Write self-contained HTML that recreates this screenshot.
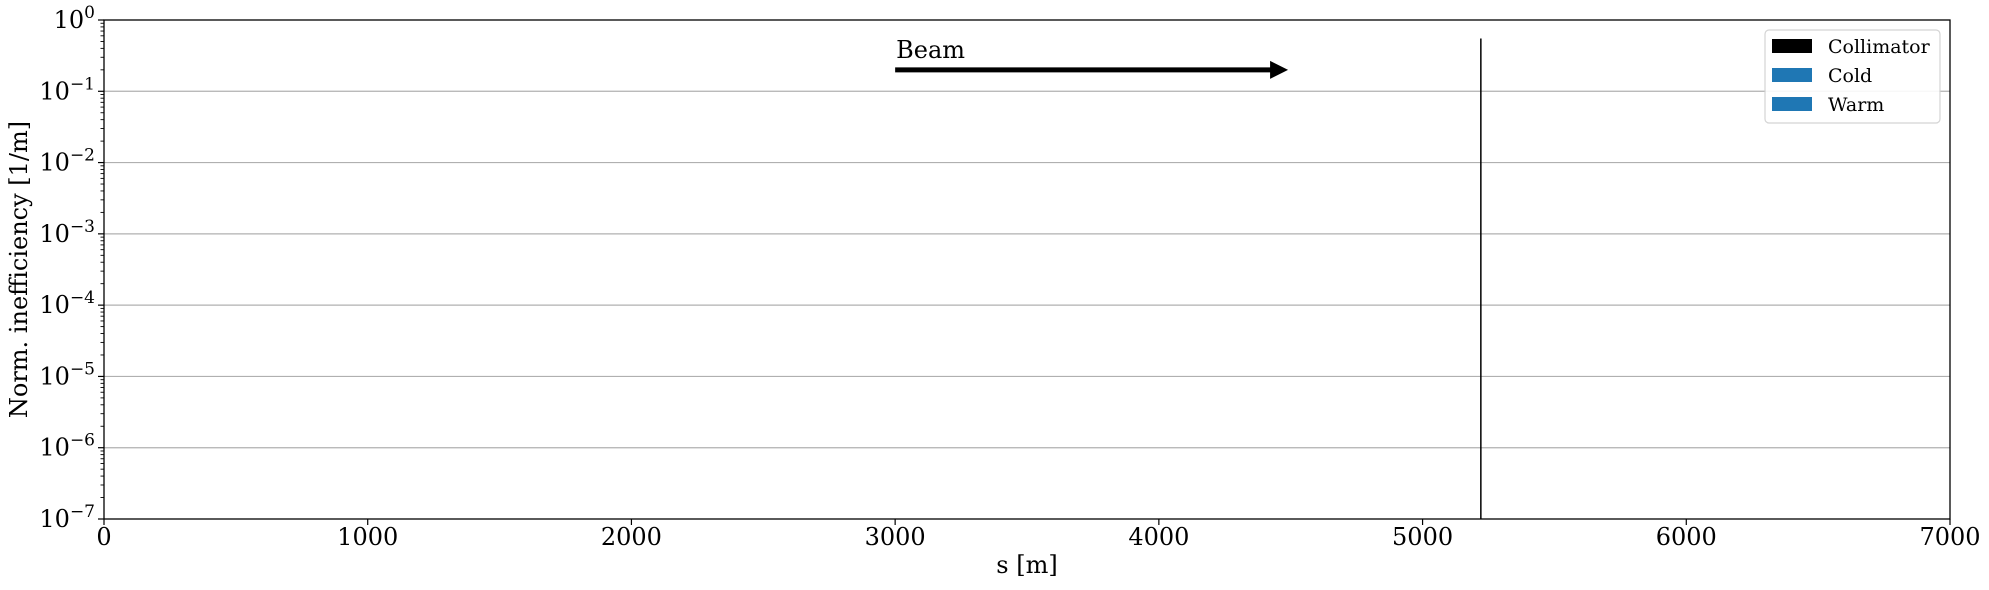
<!DOCTYPE html>
<html><head><meta charset="utf-8"><style>
html,body{margin:0;padding:0;background:#fff;}
svg{display:block;font-family:"DejaVu Serif","Liberation Serif",serif;}
</style></head><body>
<svg id="chart" width="1989" height="590" viewBox="0 0 1989 590"></svg>
<script>
const xTicks=[0,1000,2000,3000,4000,5000,6000,7000];
const yExps=[0,-1,-2,-3,-4,-5,-6,-7];
const collimatorPos=[5221];
const collimatorVal=[0.55];
const beamStart=[3000];
const beamEnd=[4490];
const beamY=[0.2];
const L=104,R=1950,T=20,B=519;
const X=v=>L+(v-0)/(7000-0)*(R-L);
const Y=v=>T+(0-Math.log10(v))/7*(B-T);
const svg=document.getElementById('chart');
const NS='http://www.w3.org/2000/svg';
function mk(tag,attrs,parent){const e=document.createElementNS(NS,tag);for(const k in attrs)e.setAttribute(k,attrs[k]);(parent||svg).appendChild(e);return e;}
yExps.forEach(e=>{if(e===0||e===-7)return;
 const g=mk('line',{x1:L,x2:R,y1:Y(Math.pow(10,e)),y2:Y(Math.pow(10,e)),stroke:'#b0b0b0','stroke-width':1.2});
 
 });
collimatorPos.forEach((s,i)=>{
 const l=mk('line',{x1:X(s),x2:X(s),y1:Y(collimatorVal[i]),y2:B,stroke:'#000','stroke-width':1.5});
 
 });
const fr=mk('rect',{x:L,y:T,width:R-L,height:B-T,fill:'none',stroke:'#000','stroke-width':1.3});


xTicks.forEach(v=>{
 mk('line',{x1:X(v),x2:X(v),y1:B,y2:B+6,stroke:'#000','stroke-width':1.2});
 const t=mk('text',{x:X(v),y:545,'font-size':24,'text-anchor':'middle',fill:'#000'});t.textContent=v;
 
 });
yExps.forEach(e=>{
 const y=Y(Math.pow(10,e));
 mk('line',{x1:L-6,x2:L,y1:y,y2:y,stroke:'#000','stroke-width':1.2});
 const t=mk('text',{x:95,y:y+8,'font-size':24,'text-anchor':'end',fill:'#000'});
 
 
 const a=document.createElementNS(NS,'tspan');a.textContent='10';t.appendChild(a);
 const b=document.createElementNS(NS,'tspan');b.setAttribute('dy','-10');b.setAttribute('font-size','17');
 b.textContent=e===0?'0':'\u2212'+(-e);t.appendChild(b);
 if(e>-7){for(let m=2;m<=9;m++){const yy=Y(m*Math.pow(10,e-1));
  mk('line',{x1:L-3.5,x2:L,y1:yy,y2:yy,stroke:'#000','stroke-width':0.9});}}
});
let t=mk('text',{x:(L+R)/2,y:573,'font-size':24,'text-anchor':'middle'});t.textContent='s [m]';


t=mk('text',{x:0,y:0,'font-size':24,'text-anchor':'middle',transform:'translate(27,'+((T+B)/2)+') rotate(-90)'});t.textContent='Norm. inefficiency [1/m]';


const ay=Y(beamY[0]);
const tip=X(beamEnd[0]);
const ar=mk('g',{});


mk('line',{x1:X(beamStart[0]),x2:tip-16,y1:ay,y2:ay,stroke:'#000','stroke-width':5},ar);
mk('polygon',{points:(tip-18)+','+(ay-9)+' '+tip+','+ay+' '+(tip-18)+','+(ay+9),fill:'#000'},ar);
t=mk('text',{x:X(beamStart[0])+1,y:58,'font-size':24});t.textContent='Beam';


const lg=mk('g',{});


mk('rect',{x:1765,y:30,width:175,height:93,rx:4,fill:'#fff',stroke:'#d0d0d0','stroke-width':1.2,opacity:0.9},lg);
const entries=[['Collimator','#000'],['Cold','#1f77b4'],['Warm','#1f77b4']];
entries.forEach((en,i)=>{
 const yy=46+i*29;
 const g=mk('g',{},lg);
 
 
 mk('rect',{x:1772,y:yy-7,width:40,height:14,fill:en[1]},g);
 const tx=mk('text',{x:1828,y:yy+7,'font-size':19},g);tx.textContent=en[0];
});
</script>
</body></html>
